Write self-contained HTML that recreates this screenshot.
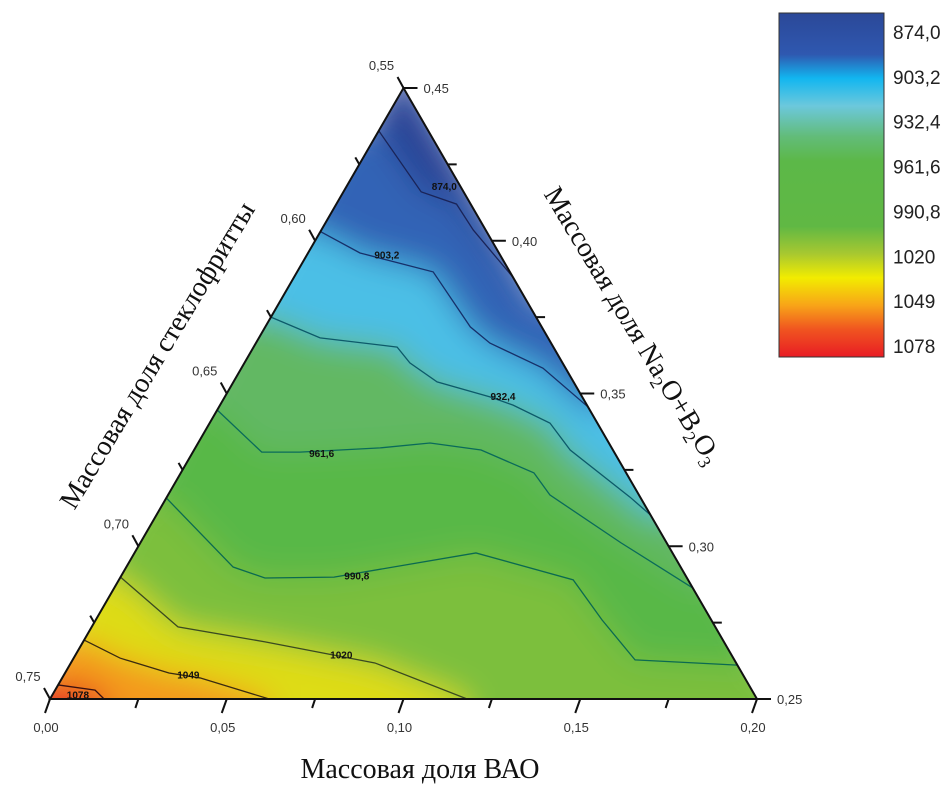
<!DOCTYPE html>
<html><head><meta charset="utf-8">
<style>
html,body{margin:0;padding:0;background:#fff;}
svg{display:block;}
.tk{font-family:"Liberation Sans",sans-serif;font-size:13px;fill:#333;}
.ttl{font-family:"Liberation Serif",serif;font-size:28px;fill:#111;}
.cb{font-family:"Liberation Sans",sans-serif;font-size:19px;fill:#222;}
.cl{font-family:"Liberation Sans",sans-serif;font-size:10px;font-weight:bold;fill:#111;}
</style></head>
<body>
<svg id="chart" width="944" height="796" viewBox="0 0 944 796">
<defs>
<clipPath id="tri"><polygon points="50,699 757,699 403.5,88"/></clipPath>
<filter id="blur" x="-10%" y="-10%" width="120%" height="120%"><feGaussianBlur stdDeviation="16"/></filter>
<linearGradient id="cbg" x1="0" y1="0" x2="0" y2="1">
<stop offset="0" stop-color="#2b4898"/><stop offset="0.12" stop-color="#2f58b0"/>
<stop offset="0.19" stop-color="#12b6f0"/><stop offset="0.27" stop-color="#6cc8dc"/>
<stop offset="0.36" stop-color="#62bc78"/><stop offset="0.43" stop-color="#5cb848"/>
<stop offset="0.62" stop-color="#60b844"/><stop offset="0.70" stop-color="#a8c830"/>
<stop offset="0.77" stop-color="#f2ec00"/><stop offset="0.85" stop-color="#f8a418"/>
<stop offset="0.92" stop-color="#f05420"/><stop offset="1" stop-color="#e81c24"/>
</linearGradient>
</defs>
<g id="field" clip-path="url(#tri)"></g>
<g id="lines" clip-path="url(#tri)"></g>
<polygon points="50,699 757,699 403.5,88" fill="none" stroke="#111" stroke-width="2"/>
<g id="axes"></g>
<text class="ttl" x="420" y="778" text-anchor="middle">Массовая доля ВАО</text>
<text class="ttl" transform="translate(165,360) rotate(-59)" text-anchor="middle">Массовая доля стеклофритты</text>
<text class="ttl" transform="translate(625,330) rotate(59)" text-anchor="middle">Массовая доля Na<tspan font-size="18" dy="6">2</tspan><tspan dy="-6">O+B</tspan><tspan font-size="18" dy="6">2</tspan><tspan dy="-6">O</tspan><tspan font-size="18" dy="6">3</tspan></text>
<rect x="779" y="13" width="105" height="344" fill="url(#cbg)" stroke="#333" stroke-width="1"/>
<g id="cbl"></g>
</svg>
<script>
// contour levels and labels
const levels = [874.0, 903.2, 932.4, 961.6, 990.8, 1020, 1049, 1078];
const levelLabels = ["874,0","903,2","932,4","961,6","990,8","1020","1049","1078"];
// contour polylines in data coords [BAO, Na2O+B2O3]
const c874 = [[0,0.436],[0.022,0.416],[0.034,0.412],[0.043,0.4035],[0.062,0.388],[0.0704,0.3796]];
const c903 = [[0,0.403],[0.0147,0.396],[0.0385,0.3898],[0.058,0.3718],[0.0662,0.3665],[0.0853,0.3583],[0.1044,0.3456]];
const c932 = [[0,0.375],[0.0173,0.3682],[0.0406,0.3652],[0.0468,0.36],[0.0576,0.3538],[0.075,0.3489],[0.0829,0.3462],[0.0963,0.3403],[0.1064,0.3315],[0.131,0.3161],[0.1398,0.3102]];
const c961 = [[0,0.3446],[0.0195,0.3308],[0.0303,0.3308],[0.0523,0.3322],[0.0656,0.3338],[0.0812,0.3315],[0.0999,0.324],[0.108,0.3168],[0.136,0.3011],[0.1637,0.2863]];
const c990 = [[0,0.3158],[0.0302,0.2932],[0.041,0.2896],[0.0604,0.2899],[0.0966,0.2978],[0.1285,0.289],[0.1432,0.2759],[0.1591,0.2628],[0.1889,0.2611]];
const c1020 = [[0,0.2899],[0.0244,0.2736],[0.0515,0.2687],[0.086,0.2618],[0.118,0.25]];
const c1049 = [[0,0.2693],[0.0131,0.2634],[0.0294,0.2585],[0.039,0.2569],[0.062,0.25]];
const c1078 = [[0,0.2546],[0.0113,0.2529],[0.0153,0.25]];
// label positions along contours [BAO, Na2O]
const labelPos = [[0.024,0.418],[0.019,0.3955],[0.075,0.3492],[0.033,0.3306],[0.063,0.2905],[0.072,0.2645],[0.032,0.258],[0.004,0.2515]];
const bottomTicks = ["0,00","0,05","0,10","0,15","0,20"];
const leftTicks = ["0,55","0,60","0,65","0,70","0,75"];
const rightTicks = ["0,45","0,40","0,35","0,30","0,25"];

const contours=[c874,c903,c932,c961,c990,c1020,c1049,c1078];
const bandColors=["#2a4596","#3264b6","#4cbfe6","#62b864","#58b846","#7cbf3e","#dedc12","#f4981c","#e42222"];
const lineColors=["#1a2458","#16306a","#0d5a6a","#0a6a5a","#0b6a50","#3a4a20","#3a2a10","#3a1010"];
const endsBottom=[false,false,false,false,false,true,true,true];
function px(b,n){const t=(n-0.25)/0.2;return [50+b/0.2*707+t*353.5, 699-t*611];}
const NS='http://www.w3.org/2000/svg';
function mk(tag,attrs,parent){const e=document.createElementNS(NS,tag);for(const k in attrs)e.setAttribute(k,attrs[k]);parent.appendChild(e);return e;}
const field=document.getElementById('field'),lines=document.getElementById('lines'),axes=document.getElementById('axes');
const bg=mk('g',{filter:'url(#blur)'},field);
const base=mk('polygon',{points:'30,720 780,720 403.5,60',fill:bandColors[0]},bg);


contours.forEach((c,i)=>{
  const pts=c.map(p=>px(p[0],p[1]));
  let poly=pts.slice();
  poly.unshift([pts[0][0]-40,pts[0][1]]);
  if(endsBottom[i]){poly.push([pts[pts.length-1][0],740]);poly.push([20,740]);}
  else{poly.push([pts[pts.length-1][0]+40,pts[pts.length-1][1]]);poly.push([800,740]);poly.push([20,740]);}
  const pg=mk('polygon',{points:poly.map(p=>p.join(',')).join(' '),fill:bandColors[i+1]},bg);
  
  
  const pl=mk('polyline',{points:pts.map(p=>p.join(',')).join(' '),fill:'none',stroke:lineColors[i],'stroke-width':1.3},lines);
  
  
  const lp=px(labelPos[i][0],labelPos[i][1]);
  const tx=mk('text',{x:lp[0],y:lp[1]+4,'class':'cl','text-anchor':'start'},lines);
  tx.textContent=levelLabels[i];
  
  
});
for(let k=0;k<=8;k++){
  const b=k*0.025, p=px(b,0.25), major=k%2===0;
  const ln=mk('line',{x1:p[0],y1:p[1],x2:p[0]-(major?5:3),y2:p[1]+(major?14:9),stroke:'#111','stroke-width':2},axes);
  
  
  if(major){const t=mk('text',{x:p[0]-4,y:p[1]+33,'class':'tk','text-anchor':'middle'},axes);t.textContent=bottomTicks[k/2];
    
    }
  const n=0.45-k*0.025, q=px(0,n);
  const l2=mk('line',{x1:q[0],y1:q[1],x2:q[0]-(major?6:4),y2:q[1]-(major?11:7),stroke:'#111','stroke-width':2},axes);
  
  
  if(major){const t=mk('text',{x:q[0]-22,y:q[1]-18,'class':'tk','text-anchor':'middle'},axes);t.textContent=leftTicks[k/2];
    
    }
  const r=px(0.45-n,n);
  const l3=mk('line',{x1:r[0],y1:r[1],x2:r[0]+(major?14:9),y2:r[1],stroke:'#111','stroke-width':2},axes);
  
  
  if(major){const t=mk('text',{x:r[0]+20,y:r[1]+5,'class':'tk','text-anchor':'start'},axes);t.textContent=rightTicks[k/2];
    
    }
}
const cbl=document.getElementById('cbl');
levelLabels.forEach((s,i)=>{
  const y=32+i*(346-32)/7;
  const t=mk('text',{x:893,y:y+7,'class':'cb'},cbl);t.textContent=s;
  
  
});
</script>
</body></html>
